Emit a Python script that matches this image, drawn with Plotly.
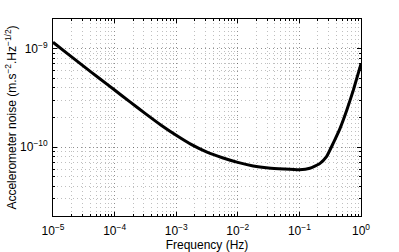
import plotly.graph_objects as go

freq_hz = [1e-5, 10**-4.75, 10**-4.5, 10**-4.25, 1e-4, 10**-3.75, 10**-3.5, 10**-3.25,
           1e-3, 10**-2.75, 10**-2.5, 10**-2.25, 1e-2, 10**-1.75, 10**-1.5, 10**-1.25,
           1e-1, 10**-0.83, 10**-0.67, 10**-0.56, 10**-0.45, 10**-0.34,
           10**-0.23, 10**-0.125, 1.0]
accel_noise = [1.16e-9, 8.75e-10, 6.6e-10, 5.0e-10, 3.8e-10, 2.88e-10, 2.19e-10, 1.68e-10,
               1.32e-10, 1.06e-10, 8.9e-11, 7.8e-11, 7.0e-11, 6.45e-11, 6.15e-11, 6.0e-11,
               5.9e-11, 6.1e-11, 6.8e-11, 8.0e-11, 1.10e-10, 1.55e-10,
               2.38e-10, 3.78e-10, 7.0e-10]

x_ticks = [1e-5, 1e-4, 1e-3, 1e-2, 1e-1, 1e0]
x_ticklabels = ["10<sup>−5</sup>", "10<sup>−4</sup>", "10<sup>−3</sup>",
                "10<sup>−2</sup>", "10<sup>−1</sup>", "10<sup>0</sup>"]
y_ticks = [1e-10, 1e-9]
y_ticklabels = ["10<sup>−10</sup>", "10<sup>−9</sup>"]

FONT = "Liberation Sans, Arial, sans-serif"

fig = go.Figure()
fig.add_trace(go.Scatter(x=freq_hz, y=accel_noise, mode="lines",
                         line=dict(color="black", width=3, shape="spline", smoothing=0.4),
                         showlegend=False, hoverinfo="skip"))

grid_col = "rgba(0,0,0,0.25)"
grid_dash = "1px,3px"
common = dict(showline=True, linecolor="black", linewidth=1, mirror="ticks",
              ticks="inside", ticklen=4, tickcolor="black",
              showgrid=True, gridcolor=grid_col, griddash=grid_dash, gridwidth=1,
              zeroline=False, automargin=False,
              tickfont=dict(family=FONT, size=12, color="black"))

fig.update_xaxes(type="log", range=[-5, 0], tickvals=x_ticks, ticktext=x_ticklabels,
                 minor=dict(dtick="D1", showgrid=True, gridcolor=grid_col, griddash=grid_dash,
                            ticks="inside", ticklen=2, tickcolor="black"),
                 title=dict(text="Frequency (Hz)", standoff=2,
                            font=dict(family=FONT, size=12, color="black")),
                 ticklabelstandoff=4, **common)
fig.update_yaxes(type="log", range=[-10.699, -8.699], tickvals=y_ticks, ticktext=y_ticklabels,
                 minor=dict(dtick="D1", showgrid=True, gridcolor=grid_col, griddash=grid_dash,
                            ticks="inside", ticklen=2, tickcolor="black"),
                 title=dict(text="Accelerometer noise (m.s<sup>−2</sup>.Hz<sup>−1/2</sup>)", standoff=0,
                            font=dict(family=FONT, size=12, color="black")),
                 ticklabelstandoff=2, **common)

fig.update_layout(width=399, height=252, margin=dict(l=53, r=38, t=19, b=36),
                  plot_bgcolor="white", paper_bgcolor="white")
fig.write_html("out.html", config={"displayModeBar": False},
               post_script="document.body.style.margin='0';")
